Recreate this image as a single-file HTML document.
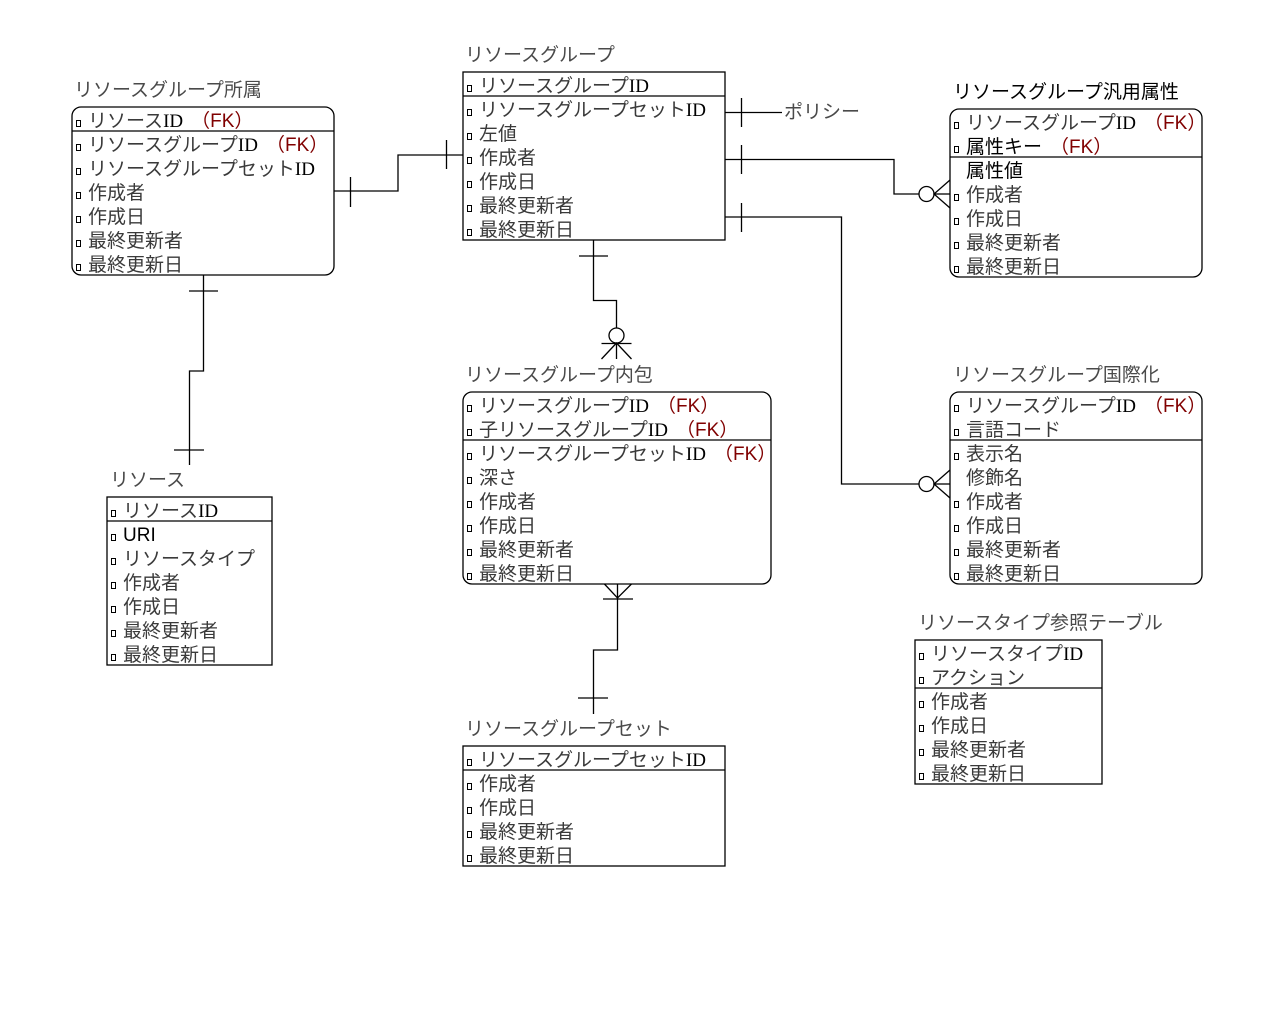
<!DOCTYPE html>
<html><head><meta charset="utf-8">
<style>
html,body{margin:0;padding:0;background:#fff;}
svg{display:block;}
.t{font-family:"Liberation Sans","Noto Sans CJK JP",sans-serif;font-size:19px;fill:#3a3a3a;}
.ti{font-family:"Liberation Sans","Noto Sans CJK JP",sans-serif;font-size:19px;fill:#4a4a4a;}
.dk{fill:#000;}
.id{font-family:"Liberation Serif","Noto Sans CJK JP",serif;fill:#000;}
.fk{fill:#800000;}
.ic{fill:#fff;stroke:#000;stroke-width:1;}
.bx{fill:#fff;stroke:#000;stroke-width:1.3;}
.ln{fill:none;stroke:#000;stroke-width:1.3;}
</style></head>
<body>
<svg width="1280" height="1010" viewBox="0 0 1280 1010" xmlns="http://www.w3.org/2000/svg">
<rect x="0" y="0" width="1280" height="1010" fill="#fff"/>

<!-- ===== Connectors ===== -->
<polyline class="ln" points="334,191 398,191 398,155 463,155"/>
<line class="ln" x1="350.5" y1="177" x2="350.5" y2="207"/>
<line class="ln" x1="446.5" y1="140" x2="446.5" y2="169"/>
<polyline class="ln" points="203.5,275 203.5,371 189.5,371 189.5,465"/>
<line class="ln" x1="189" y1="291" x2="218" y2="291"/>
<line class="ln" x1="174" y1="450" x2="204" y2="450"/>
<line class="ln" x1="725" y1="112.5" x2="782" y2="112.5"/>
<line class="ln" x1="741.5" y1="98" x2="741.5" y2="127"/>
<text class="ti" x="784" y="118">ポリシー</text>
<polyline class="ln" points="725,159.5 894,159.5 894,194 919,194"/>
<line class="ln" x1="741.5" y1="145" x2="741.5" y2="174"/>
<circle class="ln" cx="926.5" cy="194" r="7.5"/>
<polyline class="ln" points="950,180 934,194 950,208"/>
<line class="ln" x1="934" y1="194" x2="950" y2="194"/>
<polyline class="ln" points="725,217 841.5,217 841.5,484 919,484"/>
<line class="ln" x1="741.5" y1="203" x2="741.5" y2="232"/>
<circle class="ln" cx="926.5" cy="484" r="7.5"/>
<polyline class="ln" points="950,470 934,484 950,498"/>
<line class="ln" x1="934" y1="484" x2="950" y2="484"/>
<polyline class="ln" points="593.5,240 593.5,300.5 616.5,300.5 616.5,328"/>
<line class="ln" x1="579" y1="256" x2="608" y2="256"/>
<circle class="ln" cx="616.5" cy="335.5" r="7.5"/>
<line class="ln" x1="601.5" y1="343.5" x2="631.5" y2="343.5"/>
<polyline class="ln" points="601.5,359 616.5,343 631.5,359"/>
<line class="ln" x1="616.5" y1="343" x2="616.5" y2="359"/>
<polyline class="ln" points="603.5,583 617.5,598 632.5,583"/>
<polyline class="ln" points="617.5,583 617.5,650 593.5,650 593.5,714"/>
<line class="ln" x1="603" y1="599" x2="633" y2="599"/>
<line class="ln" x1="578" y1="698" x2="608" y2="698"/>

<!-- ===== リソースグループ所属 ===== -->
<text class="ti" x="74" y="96">リソースグループ所属</text>
<rect class="bx" x="72" y="107" width="262" height="168" rx="9"/>
<line class="ln" x1="72" y1="131" x2="334" y2="131"/>
<rect class="ic" x="76.5" y="120.5" width="4" height="6"/>
<rect class="ic" x="76.5" y="144.5" width="4" height="6"/>
<rect class="ic" x="76.5" y="168.5" width="4" height="6"/>
<rect class="ic" x="76.5" y="192.5" width="4" height="6"/>
<rect class="ic" x="76.5" y="216.5" width="4" height="6"/>
<rect class="ic" x="76.5" y="240.5" width="4" height="6"/>
<rect class="ic" x="76.5" y="264.5" width="4" height="6"/>
<text class="t" x="88" y="127">リソース<tspan class="id">ID</tspan><tspan class="fk" dx="8">（FK）</tspan></text>
<text class="t" x="88" y="151">リソースグループ<tspan class="id">ID</tspan><tspan class="fk" dx="8">（FK）</tspan></text>
<text class="t" x="88" y="175">リソースグループセット<tspan class="id">ID</tspan></text>
<text class="t" x="88" y="199">作成者</text>
<text class="t" x="88" y="223">作成日</text>
<text class="t" x="88" y="247">最終更新者</text>
<text class="t" x="88" y="271">最終更新日</text>

<!-- ===== リソースグループ ===== -->
<text class="ti" x="465" y="61">リソースグループ</text>
<rect class="bx" x="463" y="72" width="262" height="168"/>
<line class="ln" x1="463" y1="96" x2="725" y2="96"/>
<rect class="ic" x="467.5" y="85.5" width="4" height="6"/>
<rect class="ic" x="467.5" y="109.5" width="4" height="6"/>
<rect class="ic" x="467.5" y="133.5" width="4" height="6"/>
<rect class="ic" x="467.5" y="157.5" width="4" height="6"/>
<rect class="ic" x="467.5" y="181.5" width="4" height="6"/>
<rect class="ic" x="467.5" y="205.5" width="4" height="6"/>
<rect class="ic" x="467.5" y="229.5" width="4" height="6"/>
<text class="t" x="479" y="92">リソースグループ<tspan class="id">ID</tspan></text>
<text class="t" x="479" y="116">リソースグループセット<tspan class="id">ID</tspan></text>
<text class="t" x="479" y="140">左値</text>
<text class="t" x="479" y="164">作成者</text>
<text class="t" x="479" y="188">作成日</text>
<text class="t" x="479" y="212">最終更新者</text>
<text class="t" x="479" y="236">最終更新日</text>

<!-- ===== リソースグループ汎用属性 ===== -->
<text class="ti dk" x="953" y="98">リソースグループ汎用属性</text>
<rect class="bx" x="950" y="109" width="252" height="168" rx="9"/>
<line class="ln" x1="950" y1="157" x2="1202" y2="157"/>
<rect class="ic" x="954.5" y="122.5" width="4" height="6"/>
<rect class="ic" x="954.5" y="146.5" width="4" height="6"/>
<rect class="ic" x="954.5" y="194.5" width="4" height="6"/>
<rect class="ic" x="954.5" y="218.5" width="4" height="6"/>
<rect class="ic" x="954.5" y="242.5" width="4" height="6"/>
<rect class="ic" x="954.5" y="266.5" width="4" height="6"/>
<text class="t" x="966" y="129">リソースグループ<tspan class="id">ID</tspan><tspan class="fk" dx="8">（FK）</tspan></text>
<text class="t dk" x="966" y="153">属性キー<tspan class="fk" dx="8">（FK）</tspan></text>
<text class="t dk" x="966" y="177">属性値</text>
<text class="t" x="966" y="201">作成者</text>
<text class="t" x="966" y="225">作成日</text>
<text class="t" x="966" y="249">最終更新者</text>
<text class="t" x="966" y="273">最終更新日</text>

<!-- ===== リソースグループ内包 ===== -->
<text class="ti" x="465" y="381">リソースグループ内包</text>
<rect class="bx" x="463" y="392" width="308" height="192" rx="9"/>
<line class="ln" x1="463" y1="440" x2="771" y2="440"/>
<rect class="ic" x="467.5" y="405.5" width="4" height="6"/>
<rect class="ic" x="467.5" y="429.5" width="4" height="6"/>
<rect class="ic" x="467.5" y="453.5" width="4" height="6"/>
<rect class="ic" x="467.5" y="477.5" width="4" height="6"/>
<rect class="ic" x="467.5" y="501.5" width="4" height="6"/>
<rect class="ic" x="467.5" y="525.5" width="4" height="6"/>
<rect class="ic" x="467.5" y="549.5" width="4" height="6"/>
<rect class="ic" x="467.5" y="573.5" width="4" height="6"/>
<text class="t" x="479" y="412">リソースグループ<tspan class="id">ID</tspan><tspan class="fk" dx="8">（FK）</tspan></text>
<text class="t" x="479" y="436">子リソースグループ<tspan class="id">ID</tspan><tspan class="fk" dx="8">（FK）</tspan></text>
<text class="t" x="479" y="460">リソースグループセット<tspan class="id">ID</tspan><tspan class="fk" dx="8">（FK）</tspan></text>
<text class="t" x="479" y="484">深さ</text>
<text class="t" x="479" y="508">作成者</text>
<text class="t" x="479" y="532">作成日</text>
<text class="t" x="479" y="556">最終更新者</text>
<text class="t" x="479" y="580">最終更新日</text>

<!-- ===== リソースグループ国際化 ===== -->
<text class="ti" x="953" y="381">リソースグループ国際化</text>
<rect class="bx" x="950" y="392" width="252" height="192" rx="9"/>
<line class="ln" x1="950" y1="440" x2="1202" y2="440"/>
<rect class="ic" x="954.5" y="405.5" width="4" height="6"/>
<rect class="ic" x="954.5" y="429.5" width="4" height="6"/>
<rect class="ic" x="954.5" y="453.5" width="4" height="6"/>
<rect class="ic" x="954.5" y="501.5" width="4" height="6"/>
<rect class="ic" x="954.5" y="525.5" width="4" height="6"/>
<rect class="ic" x="954.5" y="549.5" width="4" height="6"/>
<rect class="ic" x="954.5" y="573.5" width="4" height="6"/>
<text class="t" x="966" y="412">リソースグループ<tspan class="id">ID</tspan><tspan class="fk" dx="8">（FK）</tspan></text>
<text class="t" x="966" y="436">言語コード</text>
<text class="t" x="966" y="460">表示名</text>
<text class="t" x="966" y="484">修飾名</text>
<text class="t" x="966" y="508">作成者</text>
<text class="t" x="966" y="532">作成日</text>
<text class="t" x="966" y="556">最終更新者</text>
<text class="t" x="966" y="580">最終更新日</text>

<!-- ===== リソース ===== -->
<text class="ti" x="110" y="486">リソース</text>
<rect class="bx" x="107" y="497" width="165" height="168"/>
<line class="ln" x1="107" y1="521" x2="272" y2="521"/>
<rect class="ic" x="111.5" y="510.5" width="4" height="6"/>
<rect class="ic" x="111.5" y="534.5" width="4" height="6"/>
<rect class="ic" x="111.5" y="558.5" width="4" height="6"/>
<rect class="ic" x="111.5" y="582.5" width="4" height="6"/>
<rect class="ic" x="111.5" y="606.5" width="4" height="6"/>
<rect class="ic" x="111.5" y="630.5" width="4" height="6"/>
<rect class="ic" x="111.5" y="654.5" width="4" height="6"/>
<text class="t" x="123" y="517">リソース<tspan class="id">ID</tspan></text>
<text class="t" x="123" y="541"><tspan class="dk">URI</tspan></text>
<text class="t" x="123" y="565">リソースタイプ</text>
<text class="t" x="123" y="589">作成者</text>
<text class="t" x="123" y="613">作成日</text>
<text class="t" x="123" y="637">最終更新者</text>
<text class="t" x="123" y="661">最終更新日</text>

<!-- ===== リソースグループセット ===== -->
<text class="ti" x="465" y="735">リソースグループセット</text>
<rect class="bx" x="463" y="746" width="262" height="120"/>
<line class="ln" x1="463" y1="770" x2="725" y2="770"/>
<rect class="ic" x="467.5" y="759.5" width="4" height="6"/>
<rect class="ic" x="467.5" y="783.5" width="4" height="6"/>
<rect class="ic" x="467.5" y="807.5" width="4" height="6"/>
<rect class="ic" x="467.5" y="831.5" width="4" height="6"/>
<rect class="ic" x="467.5" y="855.5" width="4" height="6"/>
<text class="t" x="479" y="766">リソースグループセット<tspan class="id">ID</tspan></text>
<text class="t" x="479" y="790">作成者</text>
<text class="t" x="479" y="814">作成日</text>
<text class="t" x="479" y="838">最終更新者</text>
<text class="t" x="479" y="862">最終更新日</text>

<!-- ===== リソースタイプ参照テーブル ===== -->
<text class="ti" x="918" y="629">リソースタイプ参照テーブル</text>
<rect class="bx" x="915" y="640" width="187" height="144"/>
<line class="ln" x1="915" y1="688" x2="1102" y2="688"/>
<rect class="ic" x="919.5" y="653.5" width="4" height="6"/>
<rect class="ic" x="919.5" y="677.5" width="4" height="6"/>
<rect class="ic" x="919.5" y="701.5" width="4" height="6"/>
<rect class="ic" x="919.5" y="725.5" width="4" height="6"/>
<rect class="ic" x="919.5" y="749.5" width="4" height="6"/>
<rect class="ic" x="919.5" y="773.5" width="4" height="6"/>
<text class="t" x="931" y="660">リソースタイプ<tspan class="id">ID</tspan></text>
<text class="t" x="931" y="684">アクション</text>
<text class="t" x="931" y="708">作成者</text>
<text class="t" x="931" y="732">作成日</text>
<text class="t" x="931" y="756">最終更新者</text>
<text class="t" x="931" y="780">最終更新日</text>
</svg>
</body></html>
